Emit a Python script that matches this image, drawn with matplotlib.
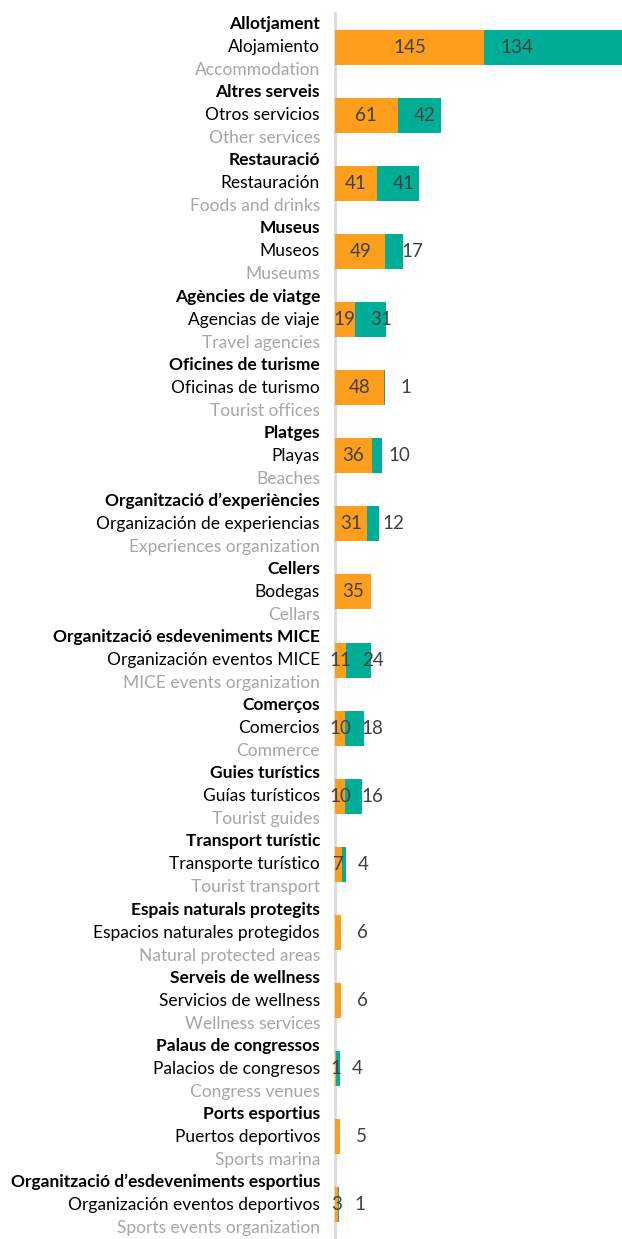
import matplotlib
matplotlib.use('Agg')
import matplotlib.pyplot as plt
from matplotlib.transforms import offset_copy

cat_ca = ["Allotjament", "Altres serveis", "Restauració", "Museus", "Agències de viatge",
          "Oficines de turisme", "Platges", "Organització d’experiències", "Cellers",
          "Organització esdeveniments MICE", "Comerços", "Guies turístics", "Transport turístic",
          "Espais naturals protegits", "Serveis de wellness", "Palaus de congressos",
          "Ports esportius", "Organització d’esdeveniments esportius"]
cat_es = ["Alojamiento", "Otros servicios", "Restauración", "Museos", "Agencias de viaje",
          "Oficinas de turismo", "Playas", "Organización de experiencias", "Bodegas",
          "Organización eventos MICE", "Comercios", "Guías turísticos", "Transporte turístico",
          "Espacios naturales protegidos", "Servicios de wellness", "Palacios de congresos",
          "Puertos deportivos", "Organización eventos deportivos"]
cat_en = ["Accommodation", "Other services", "Foods and drinks", "Museums", "Travel agencies",
          "Tourist offices", "Beaches", "Experiences organization", "Cellars",
          "MICE events organization", "Commerce", "Tourist guides", "Tourist transport",
          "Natural protected areas", "Wellness services", "Congress venues",
          "Sports marina", "Sports events organization"]
series_a = [145, 61, 41, 49, 19, 48, 36, 31, 35, 11, 10, 10, 7, 6, 6, 1, 5, 3]
series_b = [134, 42, 41, 17, 31, 1, 10, 12, 0, 24, 18, 16, 4, 0, 0, 4, 0, 1]

ORANGE = '#FD9E1D'
TEAL = '#00AE97'
VAL = '#404040'
GREY = '#A6A6A6'

plt.rcParams['font.family'] = ['Lato', 'DejaVu Sans']

W, H = 622, 1239
fig = plt.figure(figsize=(W / 100, H / 100), dpi=100)
ax = fig.add_axes([335 / W, 0.0, 1 - 335 / W, 1 - 13 / H])

n = len(cat_ca)
ys = list(range(n))
ax.barh(ys, series_a, height=0.515, color=ORANGE, zorder=2)
ax.barh(ys, series_b, left=series_a, height=0.515, color=TEAL, zorder=2)

ax.set_xlim(0, 279)
ax.set_ylim(n - 0.5, -0.5)
for s in ['top', 'right', 'bottom']:
    ax.spines[s].set_visible(False)
ax.spines['left'].set_color('#D9D9D9')
ax.spines['left'].set_linewidth(2)
ax.spines['left'].set_zorder(1)
ax.set_xticks([])
ax.set_yticks([])

t_top = offset_copy(ax.transData, fig=fig, x=-15, y=23, units='dots')
t_mid = offset_copy(ax.transData, fig=fig, x=-15, y=0, units='dots')
t_bot = offset_copy(ax.transData, fig=fig, x=-15, y=-23, units='dots')
t_lab = offset_copy(ax.transData, fig=fig, x=16, y=0, units='dots')

fs_cat = 12.5
fs_val = 13.5
for i in range(n):
    ax.text(0, i, cat_ca[i], transform=t_top, ha='right', va='center', fontsize=fs_cat,
            fontweight='bold', color='black', clip_on=False)
    ax.text(0, i, cat_es[i], transform=t_mid, ha='right', va='center', fontsize=fs_cat,
            color='black', clip_on=False)
    ax.text(0, i, cat_en[i], transform=t_bot, ha='right', va='center', fontsize=fs_cat,
            color=GREY, clip_on=False)
    a, b = series_a[i], series_b[i]
    if b > 0 or a >= 10:
        ax.text(a / 2, i, str(a), ha='center', va='center', fontsize=fs_val, color=VAL,
                clip_on=False, zorder=3)
    else:
        ax.text(a, i, str(a), transform=t_lab, ha='left', va='center', fontsize=fs_val,
                color=VAL, clip_on=False, zorder=3)
    if b > 0:
        ax.text(a, i, str(b), transform=t_lab, ha='left', va='center', fontsize=fs_val,
                color=VAL, clip_on=False, zorder=3)

fig.savefig('out.png', dpi=100)
